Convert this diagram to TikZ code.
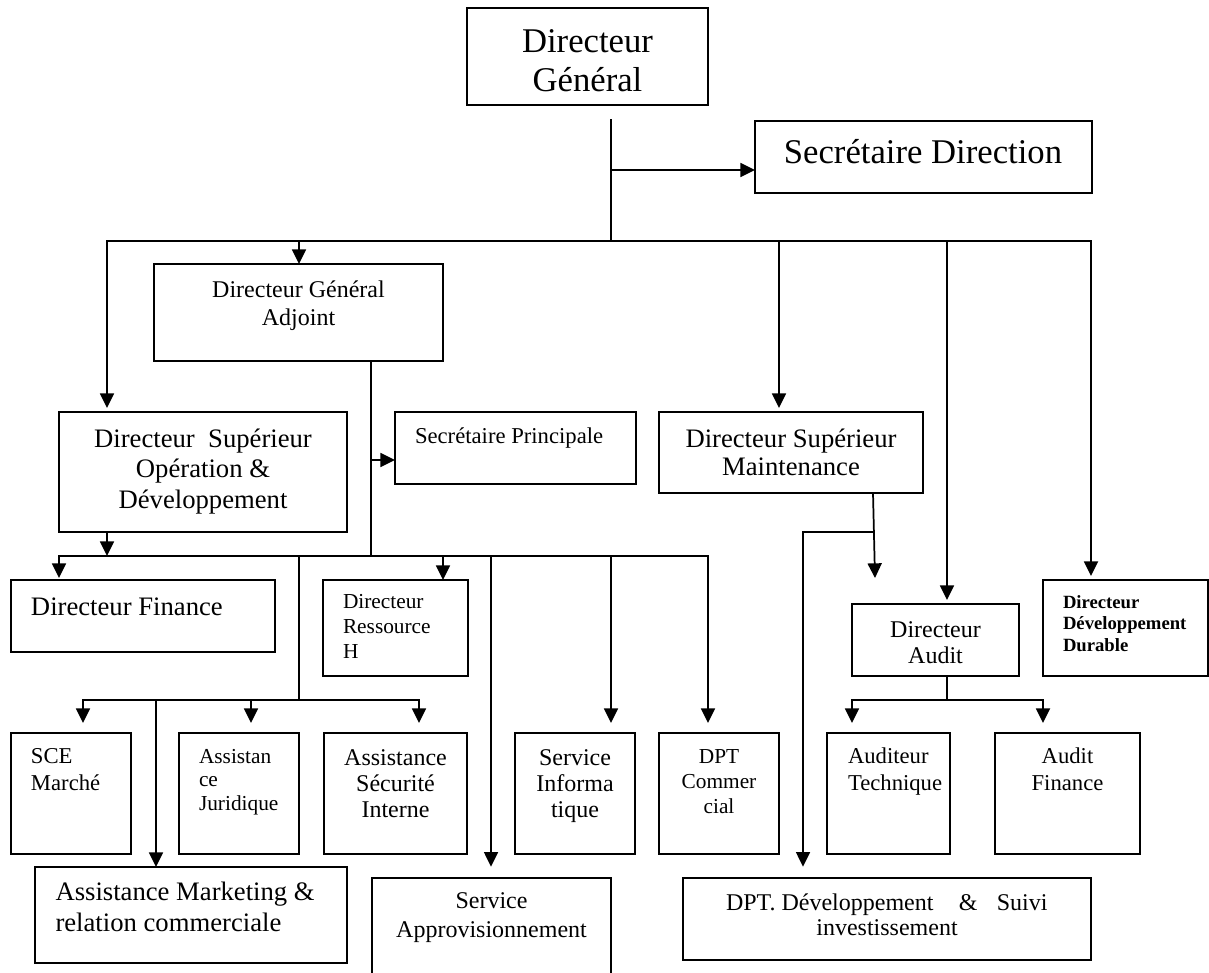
\documentclass[tikz,border=0pt]{standalone}
\usepackage{fontspec}
\setmainfont{Liberation Serif}
\usetikzlibrary{arrows.meta,fit}

% one text node per line: prefix, style, x, first baseline, line step, lines
\newcommand\textrows[6]{%
  \foreach \row [count=\k] in {#6}
    \node[#2] (#1-\k) at (#3, {#4+(\k-1)*#5}) {\row};}

\begin{document}
\begin{tikzpicture}[x=0.75pt,y=-0.75pt,
  boxst/.style={draw, rectangle, line width=1.3pt, inner sep=0pt, outer sep=0pt},
  link/.style={line width=1.3pt, line cap=rect},
  arr/.style={link, -{Triangle[width=10.5pt,length=11pt]}},
  lbl/.style={inner sep=0pt, outer sep=0pt, anchor=base},
  lblw/.style={inner sep=0pt, outer sep=0pt, anchor=base west},
  fA/.style={font=\fontsize{26}{29}\selectfont},
  fB/.style={font=\fontsize{20}{23}\selectfont},
  fC/.style={font=\fontsize{18}{21}\selectfont},
  fD/.style={font=\fontsize{17}{20}\selectfont},
  fE/.style={font=\fontsize{16}{19}\selectfont},
  fF/.style={font=\fontsize{14}{16}\selectfont\bfseries},
]
\clip (0,0) rectangle (1209,972);
\fill[white] (0,0) rectangle (1209,972);

% ---------- boxes ----------
\node[boxst, fit={(467,8) (708,105)}]    (dg)   {};
\node[boxst, fit={(755,121) (1092,193)}] (sd)   {};
\node[boxst, fit={(154,264) (443,361)}]  (dga)  {};
\node[boxst, fit={(59,412) (347,532)}]   (dsod) {};
\node[boxst, fit={(395,412) (636,484)}]  (sp)   {};
\node[boxst, fit={(659,412) (923,493)}]  (dsm)  {};
\node[boxst, fit={(11,580) (275,652)}]   (df)   {};
\node[boxst, fit={(323,580) (468,676)}]  (drh)  {};
\node[boxst, fit={(852,604) (1019,676)}] (da)   {};
\node[boxst, fit={(1043,580) (1208,676)}] (ddd) {};
\node[boxst, fit={(11,733) (131,854)}]   (sce)  {};
\node[boxst, fit={(179,733) (299,854)}]  (aj)   {};
\node[boxst, fit={(324,733) (467,854)}]  (asi)  {};
\node[boxst, fit={(515,733) (635,854)}]  (si)   {};
\node[boxst, fit={(659,733) (779,854)}]  (dptc) {};
\node[boxst, fit={(827,733) (950,854)}]  (at)   {};
\node[boxst, fit={(995,733) (1140,854)}] (af)   {};
\node[boxst, fit={(35,867) (347,963)}]   (am)   {};
\node[boxst, fit={(372,878) (611,990)}]  (sa)   {};
\node[boxst, fit={(683,878) (1091,960)}] (dptd) {};

% ---------- texts ----------
\textrows{dgt}{lbl,fA}{587.5}{52}{39}{Directeur,Général}
\textrows{sdt}{lbl,fA}{923}{163}{0}{Secrétaire Direction}
\textrows{dgat}{lbl,fC}{298.5}{297}{28}{Directeur Général,Adjoint}
\textrows{dsodt}{lbl,fB}{203}{447}{30.5}{Directeur~ Supérieur,Opération \&,Développement}
\textrows{spt}{lblw,fD}{415}{443}{0}{Secrétaire Principale}
\textrows{dsmt}{lbl,fB}{791}{447}{28}{Directeur Supérieur,Maintenance}
\textrows{dft}{lblw,fB}{31}{615}{0}{Directeur Finance}
\textrows{drht}{lblw,fE}{343}{608}{25}{Directeur,Ressource,H}
\textrows{dat}{lbl,fC}{935.5}{637}{26.5}{Directeur,Audit}
\textrows{dddt}{lblw,fF}{1063}{608}{21.5}{Directeur,Développement,Durable}
\textrows{scet}{lblw,fD}{31}{763}{27}{SCE,Marché}
\textrows{ajt}{lblw,fE}{199}{763}{23.5}{Assistan,ce,Juridique}
\textrows{asit}{lbl,fC}{395.5}{765}{26}{Assistance,Sécurité,Interne}
\textrows{sit}{lbl,fC}{575}{765}{26}{Service,Informa,tique}
\textrows{dptct}{lbl,fE}{719}{763}{25}{DPT,Commer,cial}
\textrows{att}{lblw,fD}{848}{763}{27}{Auditeur,Technique}
\textrows{aft}{lbl,fD}{1067.5}{763}{27}{Audit,Finance}
\textrows{amt}{lblw,fB}{55.5}{900}{31.5}{Assistance Marketing \&,relation commerciale}
\textrows{sat}{lbl,fC}{491.5}{908}{29}{Service,Approvisionnement}
\node[lblw,fC] (dptdt-1) at (726,910) {DPT. Développement\hspace{19pt}\&\hspace{14.5pt}Suivi};
\node[lbl,fC]  (dptdt-2) at (887,935) {investissement};

% ---------- connectors ----------
% Directeur Général
\coordinate (dgOut) at (611,120);
\coordinate (sdJ)   at (611,170);
\coordinate (bus1)  at (611,241);
\draw[link] (dgOut) -- (bus1);
\draw[arr]  (sdJ) -- (sdJ -| sd.west);

% first level bus
\coordinate (b1dsod) at (107,241);
\coordinate (b1dga)  at (299,241);
\coordinate (b1dsm)  at (779,241);
\coordinate (b1da)   at (947,241);
\coordinate (b1ddd)  at (1091,241);
\draw[arr, shorten >=3pt] (b1ddd) -- (b1dsod) -- (b1dsod |- dsod.north);
\draw[arr] (b1dga) -- (b1dga |- dga.north);
\draw[arr, shorten >=3pt] (b1dsm) -- (b1dsm |- dsm.north);
\draw[arr, shorten >=3pt] (b1da) -- (b1da |- da.north);
\draw[arr, shorten >=3pt] (b1ddd) -- (b1ddd |- ddd.north);

% Directeur Général Adjoint
\coordinate (dgaOut) at (371,363);
\coordinate (spJ)    at (371,460);
\coordinate (bus2)   at (371,556);
\draw[link] (dgaOut) -- (bus2);
\draw[arr]  (spJ) -- (spJ -| sp.west);

% second level bus
\coordinate (b2df)   at (59,556);
\coordinate (b2dsod) at (107,556);
\coordinate (b2mid)  at (299,556);
\coordinate (b2drh)  at (443,556);
\coordinate (b2sa)   at (491,556);
\coordinate (b2si)   at (611,556);
\coordinate (b2dptc) at (708,556);
\draw[arr] (b2dsod |- dsod.south) -- (b2dsod);
\draw[arr, shorten >=1.5pt] (b2dptc) -- (b2df) -- (b2df |- df.north);
\draw[arr] (b2drh) -- (b2drh |- drh.north);
\draw[arr, shorten >=8.5pt] (b2sa) -- (b2sa |- sa.north);
\draw[arr, shorten >=7.5pt] (b2si) -- (b2si |- si.north);
\draw[arr, shorten >=7.5pt] (b2dptc) -- (b2dptc |- dptc.north);

% third level bus
\coordinate (b3mid) at (299,700);
\coordinate (b3sce) at (83,700);
\coordinate (b3am)  at (156,700);
\coordinate (b3aj)  at (251,700);
\coordinate (b3asi) at (419,700);
\draw[link] (b2mid) -- (b3mid);
\draw[arr, shorten >=7.5pt] (b3asi) -- (b3sce) -- (b3sce |- sce.north);
\draw[arr] (b3am) -- (b3am |- am.north);
\draw[arr, shorten >=7.5pt] (b3aj) -- (b3aj |- aj.north);
\draw[arr, shorten >=7.5pt] (b3asi) -- (b3asi |- asi.north);

% Directeur Supérieur Maintenance
\coordinate (dsmOut) at (873,493);
\coordinate (dsmTip) at (875,578);
\coordinate (dptJ)   at (874,532);
\coordinate (dptC)   at (803,532);
\draw[arr] (dsmOut) -- (dsmTip);
\draw[arr, shorten >=8.5pt] (dptJ) -- (dptC) -- (dptC |- dptd.north);

% Directeur Audit
\coordinate (daOut) at (947,676);
\coordinate (b4)    at (947,700);
\coordinate (b4at)  at (852,700);
\coordinate (b4af)  at (1043,700);
\draw[link] (daOut) -- (b4);
\draw[arr, shorten >=7.5pt] (b4af) -- (b4at) -- (b4at |- at.north);
\draw[arr, shorten >=7.5pt] (b4af) -- (b4af |- af.north);
\end{tikzpicture}
\end{document}
